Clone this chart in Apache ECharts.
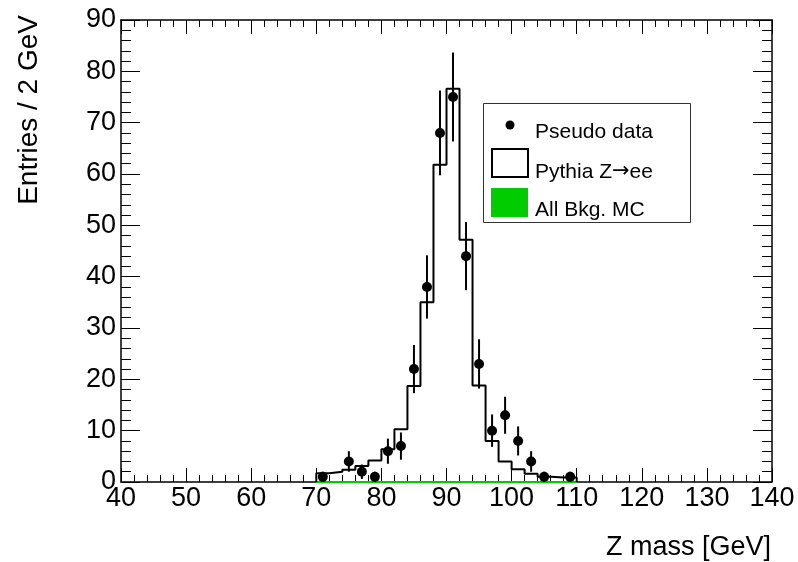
<!DOCTYPE html>
<html>
<head>
<meta charset="utf-8">
<script src="https://cdn.jsdelivr.net/npm/echarts@6/dist/echarts.min.js"></script>
<style>
html,body{margin:0;padding:0;background:#fff;}
#chart{width:798px;height:562px;}
</style>
</head>
<body>
<div id="chart"></div>
<script>
// Bin lower edges (2 GeV bins, 70-110 GeV)
const binEdges = [70,72,74,76,78,80,82,84,86,88,90,92,94,96,98,100,102,104,106,108,110];
// Pythia Z->ee MC histogram contents
const mcZee = [1.7,2.0,2.4,3.1,4.2,6.4,10.3,18.7,35.0,61.8,76.6,47.2,18.8,8.0,4.0,2.5,1.6,1.0,0.9,0.9];
// All background MC contents
const bkgMC = [0,0,0,0,0,0,0,0,0,0,0,0,0,0,0,0,0,0,0,0];
// Pseudo data at bin centers
const binCenters = [71,73,75,77,79,81,83,85,87,89,91,93,95,97,99,101,103,105,107,109];
const dataCounts = [1,0,4,2,1,6,7,22,38,68,75,44,23,10,13,8,4,1,0,1];
const dataErrors = [1,0,2,1.41,1,2.45,2.65,4.69,6.16,8.25,8.66,6.63,4.80,3.16,3.61,2.83,2,1,0,1];

const FONT = '"Liberation Sans", Arial, Helvetica, sans-serif';

function stepData(vals){
  const d = [[binEdges[0],0]];
  for(let i=0;i<vals.length;i++) d.push([binEdges[i], vals[i]]);
  d.push([binEdges[binEdges.length-1], vals[vals.length-1]]);
  d.push([binEdges[binEdges.length-1], 0]);
  return d;
}
const points = [];
for(let i=0;i<binCenters.length;i++){
  if(dataCounts[i] > 0) points.push([binCenters[i], dataCounts[i], dataErrors[i]]);
}

const chart = echarts.init(document.getElementById('chart'), null, {renderer:'canvas'});
const xCommon = {
  type:'value', min:40, max:140, interval:10,
  axisLine:{show:true, onZero:false, lineStyle:{color:'#000', width:1.5}},
  axisTick:{show:true, inside:true, length:14, lineStyle:{color:'#000', width:1}},
  minorTick:{show:true, splitNumber:5, length:7, lineStyle:{color:'#000', width:1}},
  splitLine:{show:false}
};
const yCommon = {
  type:'value', min:0, max:90, interval:10,
  axisLine:{show:true, onZero:false, lineStyle:{color:'#000', width:1.5}},
  axisTick:{show:true, inside:true, length:19, lineStyle:{color:'#000', width:1}},
  minorTick:{show:true, splitNumber:5, length:10, lineStyle:{color:'#000', width:1}},
  splitLine:{show:false}
};
const option = {
  backgroundColor:'#fff',
  animation:false,
  grid:{left:121, top:20, right:26, bottom:80, containLabel:false},
  xAxis:[
    Object.assign({}, xCommon, {position:'bottom',
      axisLabel:{show:true, margin:3, fontSize:27, color:'#000', fontFamily:FONT}}),
    Object.assign({}, xCommon, {position:'top', axisLabel:{show:false}})
  ],
  yAxis:[
    Object.assign({}, yCommon, {position:'left',
      axisLabel:{show:true, margin:5, fontSize:27, color:'#000', fontFamily:FONT}}),
    Object.assign({}, yCommon, {position:'right', axisLabel:{show:false}})
  ],
  series:[
    {
      name:'All Bkg. MC', type:'line', step:'end', data:stepData(bkgMC),
      symbol:'none', lineStyle:{color:'#00cc00', width:2}, z:2
    },
    {
      name:'Pythia Z→ee', type:'line', step:'end', data:stepData(mcZee),
      symbol:'none', lineStyle:{color:'#000', width:2}, z:3
    },
    {
      name:'Pseudo data errors', type:'custom', data:points, z:4,
      renderItem:function(params, api){
        const x = api.value(0), y = api.value(1), e = api.value(2);
        const p1 = api.coord([x, y - e]);
        const p2 = api.coord([x, y + e]);
        return {type:'line', shape:{x1:p1[0], y1:p1[1], x2:p2[0], y2:p2[1]},
          style:{stroke:'#000', lineWidth:2}};
      }
    },
    {
      name:'Pseudo data', type:'scatter', data:points, z:5,
      symbol:'circle', symbolSize:10, itemStyle:{color:'#000', opacity:1}
    }
  ],
  graphic:[
    {type:'text', x:29, y:15, rotation:Math.PI/2,
      style:{text:'Entries / 2 GeV', fontSize:28, fontFamily:FONT, fill:'#000', align:'right', verticalAlign:'middle'}},
    {type:'text', x:771, y:548,
      style:{text:'Z mass [GeV]', fontSize:27, fontFamily:FONT, fill:'#000', align:'right', verticalAlign:'middle'}},
    {type:'rect', shape:{x:483.5, y:103.5, width:207, height:119},
      style:{fill:'#fff', stroke:'#333', lineWidth:1}, z:10},
    {type:'circle', shape:{cx:510, cy:125, r:4.5}, style:{fill:'#000'}, z:11},
    {type:'text', x:535, y:132, style:{text:'Pseudo data', fontSize:21, fontFamily:FONT, fill:'#000', verticalAlign:'middle'}, z:11},
    {type:'rect', shape:{x:492, y:149, width:36, height:28}, style:{fill:'#fff', stroke:'#000', lineWidth:2}, z:11},
    {type:'text', x:535, y:172, style:{
      text:'Pythia Z{a|→}ee', fontSize:21, fontFamily:FONT, fill:'#000', verticalAlign:'middle',
      rich:{a:{fontSize:21, fontFamily:'"DejaVu Sans", sans-serif', fill:'#000'}}}, z:11},
    {type:'rect', shape:{x:491, y:188, width:37, height:29}, style:{fill:'#00cc00'}, z:11},
    {type:'text', x:535, y:210, style:{text:'All Bkg. MC', fontSize:21, fontFamily:FONT, fill:'#000', verticalAlign:'middle'}, z:11}
  ]
};
chart.setOption(option);
</script>
</body>
</html>
